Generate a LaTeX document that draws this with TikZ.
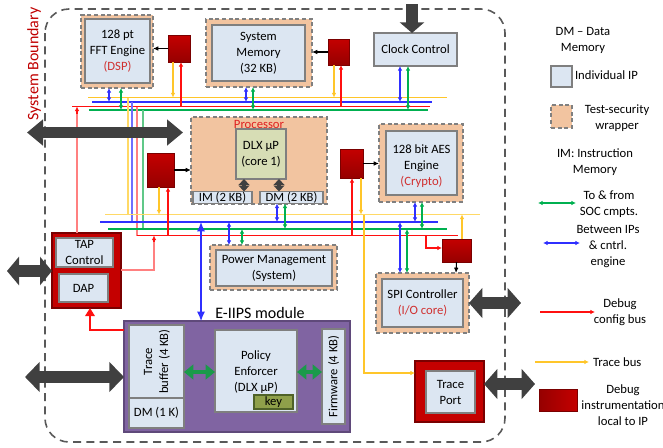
\documentclass[tikz,border=0pt]{standalone}
\usepackage{fontspec}
\setmainfont{Carlito}
\usetikzlibrary{arrows.meta}
\definecolor{ipfill}{HTML}{DCE6F2}
\definecolor{ipdraw}{HTML}{7F7F7F}
\definecolor{wrapfill}{HTML}{F2C4A0}
\definecolor{wrapdraw}{HTML}{808080}
\definecolor{dlxfill}{HTML}{D7DDB5}
\definecolor{keyfill}{HTML}{8FA04A}
\definecolor{keydraw}{HTML}{4F6228}
\definecolor{purp}{HTML}{8064A2}
\definecolor{purpdraw}{HTML}{5F497A}
\definecolor{dbgA}{HTML}{C40000}
\definecolor{dbgB}{HTML}{960000}
\definecolor{dbgEdge}{HTML}{7A0000}
\definecolor{bYel}{HTML}{FFC62A}
\definecolor{bYelL}{HTML}{FFD966}
\definecolor{bBlu}{HTML}{2F2FFF}
\definecolor{bBluL}{HTML}{6F6FFF}
\definecolor{bRed}{HTML}{FF1010}
\definecolor{bPink}{HTML}{FF8080}
\definecolor{bGrn}{HTML}{00B050}
\definecolor{bGrnL}{HTML}{60C888}
\definecolor{txtRed}{HTML}{D03030}
\definecolor{procRed}{HTML}{E02020}
\definecolor{bigArrow}{HTML}{404040}
\definecolor{fatGrn}{HTML}{1A9A4A}
\definecolor{boundRed}{HTML}{C00000}
\definecolor{boundGray}{HTML}{595959}
\tikzset{
  base/.style={inner sep=0pt, outer sep=0pt, align=center, font=\fontsize{9.5}{12}\selectfont},
  ipbox/.style={base, fill=ipfill, draw=ipdraw, line width=1.1pt},
  dlxbox/.style={base, fill=dlxfill, draw=ipdraw, line width=1pt},
  wrapbox/.style={base, fill=wrapfill, draw=wrapdraw, dash pattern=on 3pt off 2pt, line width=1.1pt},
  dbgbox/.style={base, top color=dbgA, bottom color=dbgB, draw=dbgEdge, line width=0.5pt},
  redframe/.style={base, fill=dbgA, draw=dbgEdge, line width=1pt},
  purpbox/.style={base, fill=purp, draw=purpdraw, line width=1pt},
  keybox/.style={base, fill=keyfill, draw=keydraw, line width=0.8pt},
  txt/.style={base},
  bus/.style={line width=0.85pt},
  tap/.style={line width=0.8pt, {Latex[length=3.5pt,width=3.5pt]}-{Latex[length=3.5pt,width=3.5pt]}},
  tapin/.style={line width=0.8pt, -{Latex[length=3.5pt,width=3.5pt]}},
  blk/.style={line width=0.8pt, black, -{Latex[length=4pt,width=3.5pt]}},
  bigarr/.style={bigArrow, line width=9pt, {Triangle[length=11pt,width=20pt]}-{Triangle[length=11pt,width=20pt]}},
  fatarr/.style={fatGrn, line width=3.6pt, {Triangle[length=7pt,width=11pt]}-{Triangle[length=7pt,width=11pt]}},
  diaarr/.style={bigArrow, line width=2.5pt, {Triangle[length=4.5pt,width=8pt]}-{Triangle[length=4.5pt,width=8pt]}},
}
\newcommand\pbox[7]{\node[#6, minimum width={(#4-#2)*0.75pt}, minimum height={(#5-#3)*0.75pt}] (#1) at ({(#2+#4)/2},{(#3+#5)/2}) {#7};}
\begin{document}
\begin{tikzpicture}[x=0.75pt,y=-0.75pt]
\useasboundingbox (0,0) rectangle (663,447);
% system boundary
\draw[boundGray, line width=1.2pt, dash pattern=on 6pt off 4pt, rounded corners=18pt] (45,9) rectangle (505,442);
\node[base, rotate=90, text=boundRed, font=\fontsize{12}{14}\selectfont] (sb) at (34,64) {System Boundary};

% ---------- buses ----------
\draw[bus,bYel] (88,97.5) -- (447,97.5);
\draw[bus,bBlu] (92,102) -- (432,102);
\draw[bus,bRed] (72,106.5) -- (430,106.5);
\draw[bus,bGrn] (89,110) -- (428,110);
\draw[bus,bYelL] (128,97.5) -- (128,214.5);
\draw[bus,bBluL] (132,102) -- (132,222);
\draw[bus,bPink] (137,106.5) -- (137,235.5);
\draw[bus,bGrnL] (143,110) -- (143,229);
\draw[bus,bYelL] (105,214.5) -- (480,214.5);
\draw[bus,bBlu] (100,222) -- (438,222);
\draw[bus,bGrn] (108,229) -- (447,229);
\draw[bus,bRed] (137,235.5) -- (458,235.5);

% ---------- blocks ----------
\pbox{fftw}{81}{15}{153}{88}{wrapbox}{}
\pbox{fft}{85}{19}{150}{83}{ipbox}{128 pt\\FFT Engine\\\textcolor{txtRed}{(DSP)}}
\pbox{fftdbg}{168}{35}{190}{62}{dbgbox}{}
\pbox{memw}{206}{19}{312}{87}{wrapbox}{}
\pbox{mem}{212}{25}{305}{81}{ipbox}{System\\Memory\\(32 KB)}
\pbox{memdbg}{328}{39}{349}{65}{dbgbox}{}
\pbox{clk}{374}{33}{457}{66}{ipbox}{Clock Control}

\pbox{procw}{191}{117}{327}{204}{wrapbox}{}
\node[base, text=procRed] (proclbl) at (259,124.5) {Processor};
\pbox{dlx}{236}{129}{286}{179}{dlxbox}{DLX µP\\(core 1)}
\pbox{im}{193}{191.5}{252}{203.5}{ipbox}{IM (2 KB)}
\pbox{dm}{260}{191.5}{323}{203.5}{ipbox}{DM (2 KB)}
\pbox{procdbg}{147}{153}{174}{187}{dbgbox}{}

\pbox{aesw}{379}{124}{463}{202}{wrapbox}{}
\pbox{aes}{386}{131}{457}{195}{ipbox}{}
\node[base] (aestxt) at (421.5,166) {128 bit AES\\Engine\\\textcolor{txtRed}{(Crypto)}};
\pbox{aesdbg}{340}{149}{363}{178}{dbgbox}{}

\pbox{pwrw}{210}{245}{337}{290}{wrapbox}{}
\pbox{pwr}{216}{250}{332}{286}{ipbox}{Power Management\\(System)}

\pbox{spiw}{376}{273}{469}{333}{wrapbox}{}
\pbox{spi}{382}{279}{463}{327}{ipbox}{SPI Controller\\\textcolor{txtRed}{(I/O core)}}
\pbox{spidbg}{442}{239}{471}{262}{dbgbox}{}

\pbox{tpw}{415}{361}{484}{422}{redframe}{}
\pbox{tp}{426}{371}{475}{413}{ipbox}{Trace\\Port}

\pbox{tapw}{52}{233}{121}{308}{redframe}{}
\pbox{tap}{56}{238}{113}{267}{ipbox}{TAP\\Control}
\pbox{dap}{59}{274}{108}{302}{ipbox}{DAP}

\pbox{eiips}{124}{321}{350}{432}{purpbox}{}
\node[base, font=\fontsize{12}{14}\selectfont] (eiipslbl) at (260,313) {E-IIPS module};
\pbox{tb}{129}{325}{184}{398}{ipbox}{}
\node[base, rotate=90] (tbtxt) at (157,361.5) {Trace\\buffer (4 KB)};
\pbox{dm1}{129}{398}{184}{428}{ipbox}{DM (1 K)}
\pbox{pe}{215}{330}{297}{412}{ipbox}{}
\node[base] (petxt) at (256,372) {Policy\\Enforcer\\(DLX µP)};
\pbox{key}{254}{395}{293}{409}{keybox}{key}
\pbox{fw}{322}{329}{345}{424}{ipbox}{}
\node[base, rotate=90] (fwtxt) at (333.5,376.5) {Firmware (4 KB)};

% ---------- debug block arrows ----------
\draw[blk] (fftdbg.west) -- (fftdbg.west -| fftw.east);
\draw[blk] (memdbg.west) -- (memdbg.west -| memw.east);
\draw[blk] (procdbg.east) -- (procdbg.east -| procw.west);
\draw[blk] (aesdbg.east) -- (aesdbg.east -| aesw.west);
\draw[blk] (spidbg.south) -- (spiw.north -| 456,0);

% ---------- bus taps ----------
\draw[tap,bBlu] (fftw.south -| 109,0) -- (109,102);
\draw[tap,bGrn] (fftw.south -| 121,0) -- (121,110);
\draw[tapin,bYel] (fftdbg.south -| 173,0) -- (173,97.5);
\draw[tapin,bRed] (181,106.5) -- (fftdbg.south -| 181,0);
\draw[tap,bBlu] (memw.south -| 246,0) -- (246,102);
\draw[tap,bGrn] (memw.south -| 253,0) -- (253,110);
\draw[tapin,bYel] (memdbg.south -| 334,0) -- (334,97.5);
\draw[tapin,bRed] (341,106.5) -- (memdbg.south -| 341,0);
\draw[tap,bBlu] (clk.south -| 400,0) -- (400,102);
\draw[tap,bGrn] (clk.south -| 408,0) -- (408,110);
\draw[bus,bPink] (tapw.north -| 77,0) -- (77,114);
\draw[tapin,bRed] (77,114) -- (77,106.5);
\draw[tapin,bYel] (procdbg.south -| 159,0) -- (159,214.5);
\draw[tapin,bRed] (168,235.5) -- (procdbg.south -| 168,0);
\draw[tap,bBlu] (dm.south -| 277,0) -- (277,222);
\draw[tap,bGrn] (dm.south -| 285,0) -- (285,229);
\draw[tap,bBlu] (pwrw.north -| 229,0) -- (229,222);
\draw[tap,bGrn] (pwrw.north -| 242,0) -- (242,229);
\draw[bBlu, line width=0.8pt, {Latex[length=7pt,width=6pt]}-{Latex[length=7pt,width=6pt]}] (201,222) -- (eiips.north -| 201,0);
\draw[tap,bBlu] (aesw.south -| 415,0) -- (415,222);
\draw[tap,bGrn] (aesw.south -| 422,0) -- (422,229);
\draw[tapin,bRed] (352,235.5) -- (aesdbg.south -| 352,0);
\draw[tapin,bYel] (aesdbg.south -| 361,0) -- (361,214.5);
\draw[tapin,bYel] (364,214.5) -- (364,373) -- (tpw.west |- 0,373);
\draw[tap,bBlu] (400,222) -- (spiw.north -| 400,0);
\draw[tap,bGrn] (407,229) -- (spiw.north -| 407,0);
\draw[tapin,bRed] (426,235.5) -- (426,248) -- (spidbg.west |- 0,248);
\draw[tapin,bYel] (spidbg.north -| 462,0) -- (462,214.5);
\draw[bus,bPink] (tapw.east |- 0,270) -- (154,270) -- (154,242);
\draw[tapin,bRed] (154,242) -- (154,235.5);

% ---------- processor internals ----------
\draw[diaarr] (dlx.south -| 244,0) -- (im.north -| 244,0);
\draw[diaarr] (dlx.south -| 279,0) -- (dm.north -| 279,0);

% ---------- E-IIPS internals ----------
\draw[fatarr] (tb.east |- 0,372) -- (pe.west |- 0,372);
\draw[fatarr] (pe.east |- 0,372) -- (fw.west |- 0,372);
\draw[bRed, line width=1.6pt, -{Triangle[length=6pt,width=7pt]}] (eiips.west |- 0,330) -- (90,330) -- (tapw.south -| 90,0);

% ---------- big arrows ----------
\coordinate (pinL) at (27,132.5);
\coordinate (pinR) at (183,132.5);
\draw[bigarr, line width=8.5pt, {Triangle[length=12pt,width=19pt]}-{Triangle[length=12pt,width=19pt]}] (pinL) -- (pinR);
\coordinate (clkin) at (412,4);
\draw[bigArrow, line width=9pt, -{Triangle[length=8pt,width=18pt]}] (clkin) -- (clk.north -| 412,0);
\coordinate (tapext) at (7,271);
\draw[bigarr, {Triangle[length=9pt,width=21pt]}-{Triangle[length=9pt,width=21pt]}] (tapext) -- (tapw.west |- 0,271);
\coordinate (eiext) at (25,377);
\draw[bigarr, {Triangle[length=11pt,width=22pt]}-{Triangle[length=11pt,width=22pt]}] (eiext) -- (eiips.west |- 0,377);
\coordinate (spiext) at (521,303);
\draw[bigarr, {Triangle[length=10pt,width=22pt]}-{Triangle[length=10pt,width=22pt]}] (spiw.east |- 0,303) -- (spiext);
\coordinate (tpext) at (535,384);
\draw[bigarr, {Triangle[length=10pt,width=22pt]}-{Triangle[length=10pt,width=22pt]}] (tpw.east |- 0,384) -- (tpext);

% ---------- legend ----------
\node[txt] (lgdm) at (583,40) {DM -- Data\\Memory};
\pbox{lgip}{551}{66}{572}{87}{ipbox}{}
\node[txt, anchor=west] (lgiptxt) at (575,75) {Individual IP};
\pbox{lgwr}{551}{105}{572}{128}{wrapbox}{}
\node[txt] (lgwrtxt) at (617,118) {Test-security\\wrapper};
\node[txt] (lgim) at (595,162) {IM: Instruction\\Memory};
\coordinate (lgg1) at (538,203);
\coordinate (lgg2) at (576,203);
\draw[tap,bGrn] (lgg1) -- (lgg2);
\node[txt] (lggtxt) at (609,204.5) {To \& from\\SOC cmpts.};
\coordinate (lgb1) at (543,243);
\coordinate (lgb2) at (580,243);
\draw[tap,bBlu] (lgb1) -- (lgb2);
\node[txt] (lgbtxt) at (608,246.5) {Between IPs\\\& cntrl.\\engine};
\coordinate (lgr1) at (540,312);
\coordinate (lgr2) at (595,312);
\draw[tapin,bRed] (lgr1) -- (lgr2);
\node[txt] (lgrtxt) at (620,312.5) {Debug\\config bus};
\coordinate (lgy1) at (535,362);
\coordinate (lgy2) at (589,362);
\draw[tapin,bYel] (lgy1) -- (lgy2);
\node[txt, anchor=west] (lgytxt) at (593,362) {Trace bus};
\node[base, left color=dbgB, right color=dbgA, draw=dbgEdge, line width=0.5pt, minimum width={38*0.75pt}, minimum height={22*0.75pt}] (lgdbg) at (558,400) {};
\node[txt] (lgdbgtxt) at (623,405.5) {Debug\\instrumentation\\local to IP};
\end{tikzpicture}
\end{document}
